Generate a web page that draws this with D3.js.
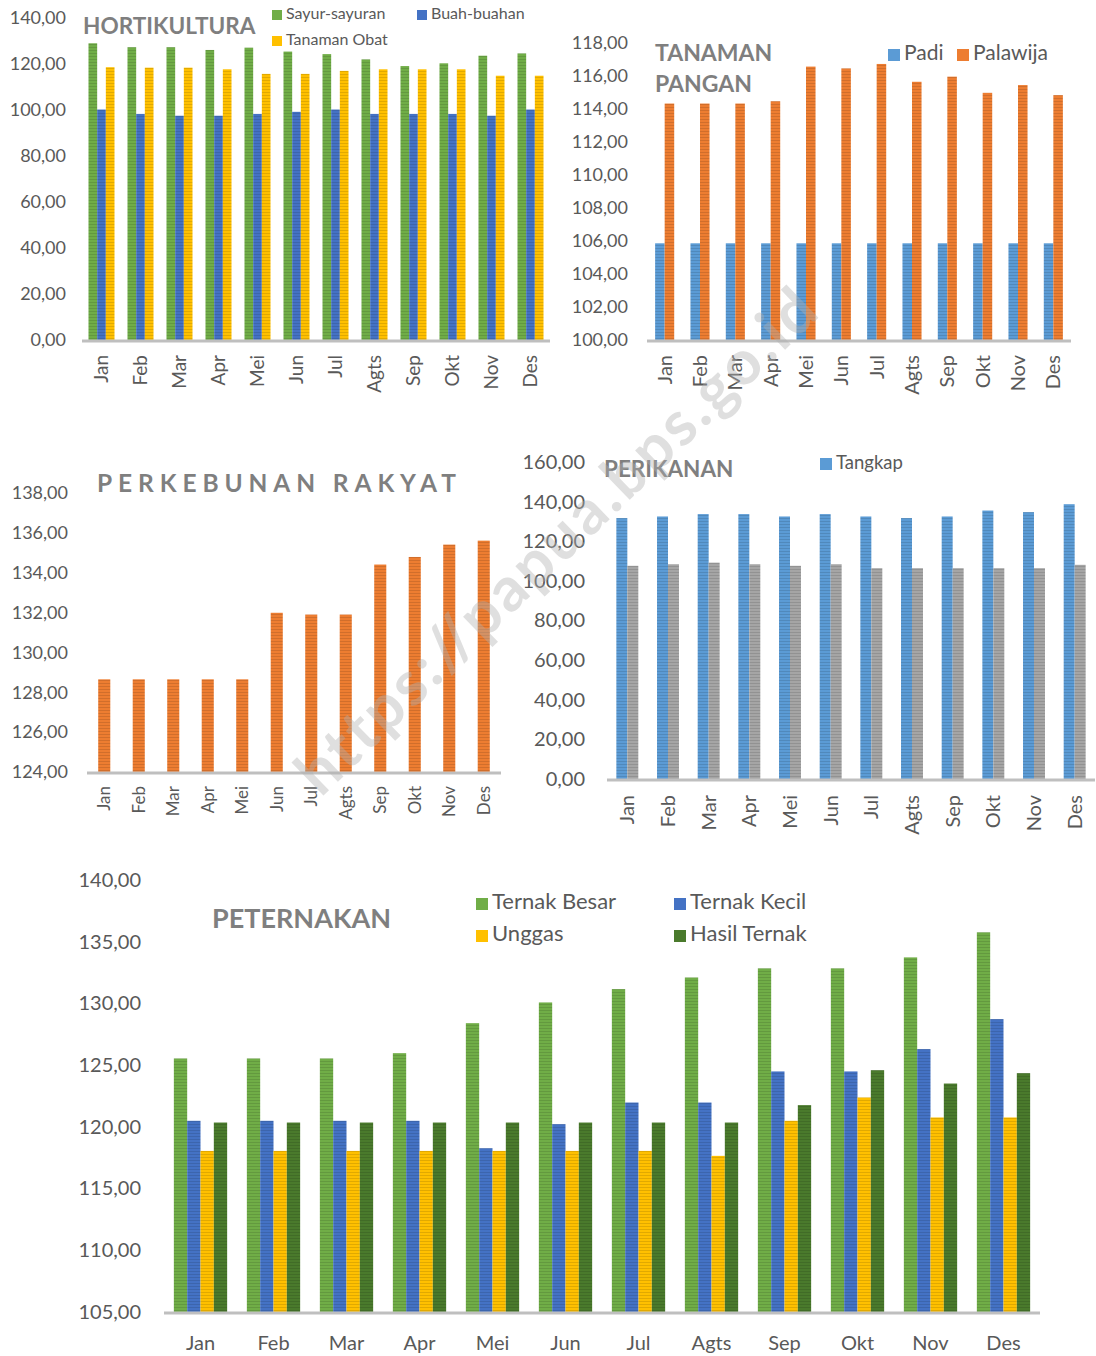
<!DOCTYPE html>
<html>
<head>
<meta charset="utf-8">
<script src="https://cdn.jsdelivr.net/npm/d3@7"></script>
<style>
  body { margin: 0; background: #fff; }
  text { font-family: Lato, "Open Sans", sans-serif; }
</style>
</head>
<body>
<svg id="chart" width="1096" height="1356"></svg>
<script>
// months on every panel
var months = ["Jan", "Feb", "Mar", "Apr", "Mei", "Jun", "Jul", "Agts", "Sep", "Okt", "Nov", "Des"];

// HORTIKULTURA
var hortSayur = [129.0, 127.3, 127.3, 126.1, 127.1, 125.4, 124.3, 122.0, 119.1, 120.3, 123.6, 124.6];
var hortBuah  = [100.2, 98.3, 97.5, 97.5, 98.3, 99.2, 100.2, 98.3, 98.3, 98.3, 97.5, 100.2];
var hortObat  = [118.6, 118.4, 118.4, 117.7, 115.7, 115.7, 117.0, 117.7, 117.7, 117.7, 114.9, 114.9];

// TANAMAN PANGAN
var panganPadi     = [105.86, 105.86, 105.86, 105.86, 105.86, 105.86, 105.86, 105.86, 105.86, 105.86, 105.86, 105.86];
var panganPalawija = [114.33, 114.33, 114.33, 114.47, 116.57, 116.46, 116.73, 115.65, 115.96, 114.98, 115.45, 114.84];

// PERKEBUNAN RAKYAT
var kebunRakyat = [128.65, 128.65, 128.65, 128.65, 128.65, 131.99, 131.90, 131.90, 134.41, 134.79, 135.41, 135.61];

// PERIKANAN
var ikanTangkap  = [131.7, 132.5, 133.7, 133.7, 132.5, 133.7, 132.5, 131.7, 132.5, 135.5, 134.7, 138.7];
var ikanBudidaya = [107.6, 108.4, 109.2, 108.4, 107.6, 108.4, 106.4, 106.4, 106.4, 106.4, 106.4, 108.1];

// PETERNAKAN
var ternakBesar = [125.54, 125.54, 125.54, 125.97, 128.40, 130.08, 131.16, 132.10, 132.84, 132.84, 133.73, 135.76];
var ternakKecil = [120.49, 120.49, 120.49, 120.49, 118.27, 120.22, 121.97, 121.97, 124.49, 124.49, 126.30, 128.73];
var unggas      = [118.05, 118.05, 118.05, 118.05, 118.05, 118.05, 118.05, 117.65, 120.49, 122.38, 120.76, 120.76];
var hasilTernak = [120.35, 120.35, 120.35, 120.35, 120.35, 120.35, 120.35, 120.35, 121.76, 124.59, 123.51, 124.35];

var svg = d3.select("#chart");
var defs = svg.append("defs");
var fmt = d3.formatLocale({decimal: ",", thousands: ".", grouping: [3], currency: ["", ""]}).format(".2f");

// striped fill like the scanned bars
function stripe(color) {
    var id = "p" + color.slice(1);
    if (defs.select("#" + id).empty()) {
        var p = defs.append("pattern").attr("id", id)
            .attr("patternUnits", "userSpaceOnUse").attr("width", 4).attr("height", 3);
        p.append("rect").attr("width", 4).attr("height", 3).attr("fill", color);
        p.append("rect").attr("y", 2).attr("width", 4).attr("height", 1)
            .attr("fill", d3.color(color).darker(0.35));
    }
    return "url(#" + id + ")";
}

function drawChart(o) {
    var g = svg.append("g");
    var x = d3.scaleBand().domain(months).range([o.x0, o.x1])
        .paddingInner(o.pad).paddingOuter(o.pad / 2);
    var sub = d3.scaleBand().domain(d3.range(o.series.length)).range([0, x.bandwidth()]);
    var y = d3.scaleLinear().domain(o.domain).range([o.yBot, o.yTop]);

    o.series.forEach(function(s, i) {
        g.append("g").selectAll("rect")
            .data(s.values)
            .join("rect")
            .attr("x", function(d, j) { return x(months[j]) + sub(i); })
            .attr("width", sub.bandwidth())
            .attr("y", function(d) { return y(d); })
            .attr("height", function(d) { return o.yBot - y(d); })
            .attr("fill", stripe(s.color));
    });

    g.append("line")
        .attr("x1", o.x0).attr("x2", o.axisEnd || o.x1)
        .attr("y1", o.yBot + 1).attr("y2", o.yBot + 1)
        .attr("stroke", "#bfbfbf").attr("stroke-width", 3);

    // y axis labels
    var ticks = d3.range(o.domain[0], o.domain[1] + 0.001, o.step);
    var ya = g.append("g").attr("transform", "translate(" + o.x0 + ",0)")
        .call(d3.axisLeft(y).tickValues(ticks).tickFormat(fmt).tickSize(0).tickPadding(o.tickPad));
    ya.select(".domain").remove();
    ya.selectAll("text").attr("font-size", o.tickFont).attr("fill", "#595959");

    // month labels
    var xa = g.append("g").attr("transform", "translate(0," + o.yBot + ")")
        .call(d3.axisBottom(x).tickSize(0));
    xa.select(".domain").remove();
    var mt = xa.selectAll("text").attr("font-size", o.monthFont).attr("fill", "#595959");
    if (o.rotate) {
        mt.attr("transform", "rotate(-90)").attr("text-anchor", "end")
            .attr("x", -o.monthPad).attr("y", 0).attr("dy", "0.35em");
    } else {
        mt.attr("y", o.monthPad).attr("dy", 0);
    }

    // title
    o.title.forEach(function(t) {
        g.append("text").attr("x", t[1]).attr("y", t[2]).text(t[0])
            .attr("font-size", o.titleFont).attr("font-weight", "bold").attr("fill", "#7f7f7f")
            .attr("letter-spacing", o.titleSpacing || 0);
    });

    // legend
    o.legend.forEach(function(l) {
        g.append("rect").attr("x", l.x).attr("y", l.y - o.legSq + 1)
            .attr("width", o.legSq).attr("height", o.legSq).attr("fill", l.color);
        g.append("text").attr("x", l.x + o.legSq + 4).attr("y", l.y).text(l.name)
            .attr("font-size", o.legFont).attr("fill", "#595959");
    });
}

var green = "#70ad47", blue = "#4472c4", yellow = "#ffc000", orange = "#ed7d31",
    lblue = "#5b9bd5", gray = "#a5a5a5", dgreen = "#4a7a2c";

drawChart({
    x0: 82, x1: 550, pad: 0.333, yTop: 18, yBot: 340, domain: [0, 140], step: 20,
    tickFont: 18, tickPad: 16, monthFont: 19, monthPad: 15, rotate: true,
    series: [{values: hortSayur, color: green}, {values: hortBuah, color: blue}, {values: hortObat, color: yellow}],
    title: [["HORTIKULTURA", 83, 34]], titleFont: 22.6,
    legSq: 10, legFont: 16,
    legend: [
        {name: "Sayur-sayuran", color: green, x: 272, y: 19},
        {name: "Buah-buahan", color: blue, x: 417, y: 19},
        {name: "Tanaman Obat", color: yellow, x: 272, y: 45}
    ]
});

drawChart({
    x0: 647, x1: 1071, pad: 0.46, yTop: 43, yBot: 340, domain: [100, 118], step: 2,
    tickFont: 18, tickPad: 19, monthFont: 20, monthPad: 15, rotate: true,
    series: [{values: panganPadi, color: lblue}, {values: panganPalawija, color: orange}],
    title: [["TANAMAN", 655, 61], ["PANGAN", 655, 92]], titleFont: 23,
    legSq: 12, legFont: 21,
    legend: [
        {name: "Padi", color: lblue, x: 888, y: 60},
        {name: "Palawija", color: orange, x: 957, y: 60}
    ]
});

drawChart({
    x0: 87, x1: 501, pad: 0.65, yTop: 493, yBot: 772, domain: [124, 138], step: 2,
    tickFont: 18, tickPad: 19, monthFont: 17, monthPad: 14, rotate: true,
    series: [{values: kebunRakyat, color: orange}],
    title: [["PERKEBUNAN RAKYAT", 97, 492]], titleFont: 24.5, titleSpacing: 5.9,
    legSq: 12, legFont: 18, legend: []
});

drawChart({
    x0: 607, x1: 1095, pad: 0.46, yTop: 462, yBot: 779, domain: [0, 160], step: 20,
    tickFont: 20, tickPad: 22, monthFont: 20, monthPad: 16, rotate: true,
    series: [{values: ikanTangkap, color: lblue}, {values: ikanBudidaya, color: gray}],
    title: [["PERIKANAN", 604, 477]], titleFont: 22.5,
    legSq: 12, legFont: 18.5,
    legend: [{name: "Tangkap", color: lblue, x: 820, y: 469}]
});

drawChart({
    x0: 164, x1: 1040, pad: 0.27, yTop: 880, yBot: 1312, domain: [105, 140], step: 5,
    tickFont: 20, tickPad: 23, monthFont: 20, monthPad: 38, rotate: false,
    series: [{values: ternakBesar, color: green}, {values: ternakKecil, color: blue},
             {values: unggas, color: yellow}, {values: hasilTernak, color: dgreen}],
    title: [["PETERNAKAN", 212, 928]], titleFont: 27,
    legSq: 12, legFont: 22,
    legend: [
        {name: "Ternak Besar", color: green, x: 476, y: 909},
        {name: "Ternak Kecil", color: blue, x: 674, y: 909},
        {name: "Unggas", color: yellow, x: 476, y: 941},
        {name: "Hasil Ternak", color: dgreen, x: 674, y: 941}
    ]
});

// watermark across the middle
svg.append("text")
    .attr("transform", "translate(557,540) rotate(-44)")
    .attr("text-anchor", "middle").attr("dy", "0.35em")
    .attr("font-size", 62).attr("font-weight", "bold").attr("letter-spacing", 3)
    .attr("fill", "#b0b0b0").attr("opacity", 0.4)
    .text("https://papua.bps.go.id");
</script>
</body>
</html>
